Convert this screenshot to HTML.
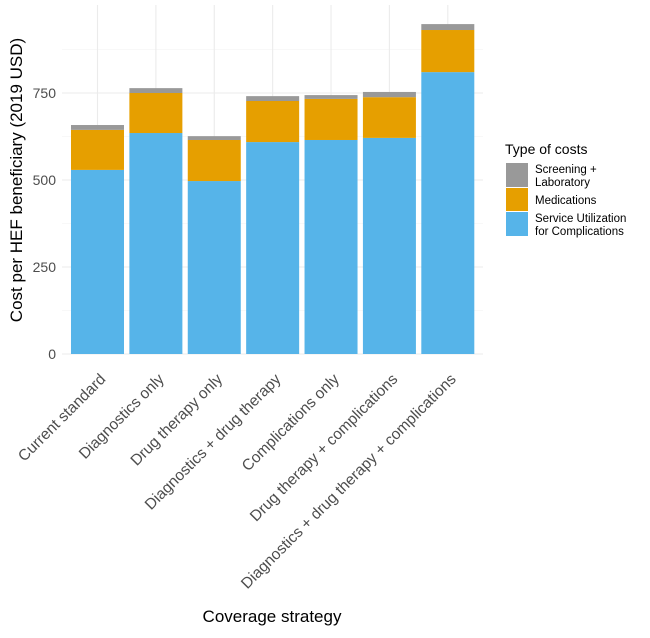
<!DOCTYPE html>
<html><head><meta charset="utf-8"><style>
body{margin:0;background:#fff;font-family:"Liberation Sans",Arial,sans-serif;}
</style></head><body>
<svg id="chart" width="650" height="633" xmlns="http://www.w3.org/2000/svg" font-family="Liberation Sans, Arial, sans-serif">
<g id="grid"></g>
<g id="bars"></g>
<g id="axes"></g>
<text transform="translate(22,180) rotate(-90)" text-anchor="middle" font-size="17" fill="#000">Cost per HEF beneficiary (2019 USD)</text>
<text x="272" y="622" text-anchor="middle" font-size="17" fill="#000">Coverage strategy</text>
<g>
<text x="505" y="154" font-size="14" fill="#000">Type of costs</text>
<rect x="506" y="163" width="22" height="24" fill="#999999"/>
<rect x="506" y="188" width="22" height="23" fill="#E69F00"/>
<rect x="506" y="212" width="22" height="24" fill="#56B4E9"/>
<text x="535" y="173" font-size="11.5" fill="#000">Screening +</text>
<text x="535" y="186" font-size="11.5" fill="#000">Laboratory</text>
<text x="535" y="204" font-size="11.5" fill="#000">Medications</text>
<text x="535" y="222" font-size="11.5" fill="#000">Service Utilization</text>
<text x="535" y="235" font-size="11.5" fill="#000">for Complications</text>
</g>
</svg>
<script>
const categories=["Current standard","Diagnostics only","Drug therapy only","Diagnostics + drug therapy","Complications only","Drug therapy + complications","Diagnostics + drug therapy + complications"];
const serviceValues=[529,635,497,609,615,621,810];
const medicationValues=[115,115,118,118,118,117,121];
const screeningValues=[14,14,11,14,11,15,17];
const yTicks=[0,250,500,750];
const yMinor=[125,375,625,875];
const NS="http://www.w3.org/2000/svg";
const px0=68.3,px1=477,py0=354,pyTop=5;
const yScale=v=>py0-v*0.348;
const step=(px1-px0)/categories.length;
const xScale=i=>px0+step*(i+0.5);
const bw=53;
function mk(tag,attrs,parent){const e=document.createElementNS(NS,tag);for(const k in attrs)e.setAttribute(k,attrs[k]);parent.appendChild(e);return e;}
const grid=document.getElementById('grid'),bars=document.getElementById('bars'),axes=document.getElementById('axes');
yMinor.forEach(v=>{const l=mk('line',{x1:62,x2:483,y1:yScale(v),y2:yScale(v),stroke:'#f2f2f2','stroke-width':0.6},grid);

});
yTicks.forEach(v=>{const l=mk('line',{x1:62,x2:483,y1:yScale(v),y2:yScale(v),stroke:'#ebebeb','stroke-width':1.1},grid);


const t=mk('text',{x:56,y:yScale(v)+5,'text-anchor':'end','font-size':14,fill:'#4d4d4d'},axes);


t.textContent=v;});
categories.forEach((c,i)=>{const x=xScale(i);
const l=mk('line',{x1:x,x2:x,y1:pyTop,y2:py0,stroke:'#ebebeb','stroke-width':1.1},grid);


const segs=[[serviceValues[i],'#56B4E9','service'],[medicationValues[i],'#E69F00','medications'],[screeningValues[i],'#999999','screening']];
let base=0;
segs.forEach(s=>{const r=mk('rect',{x:x-bw/2,y:yScale(base+s[0]),width:bw,height:yScale(base)-yScale(base+s[0]),fill:s[1]},bars);


base+=s[0];});
const t=mk('text',{transform:`translate(${x+9},${py0+26}) rotate(-45)`,'text-anchor':'end','font-size':15.5,fill:'#4d4d4d'},axes);


t.textContent=c;});
</script>
</body></html>
